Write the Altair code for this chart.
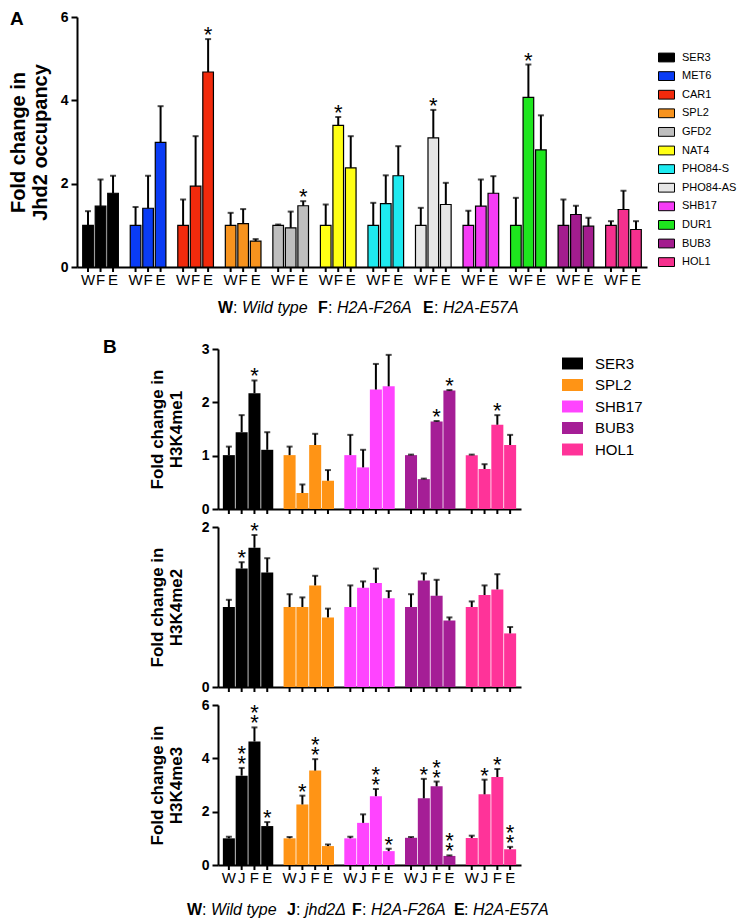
import altair as alt
import pandas as pd

FONT = "Liberation Sans, Arial, sans-serif"

# ---------------- Panel A data ----------------
genes_a = ["SER3", "MET6", "CAR1", "SPL2", "GFD2", "NAT4", "PHO84-S",
           "PHO84-AS", "SHB17", "DUR1", "BUB3", "HOL1"]
colors_a = ["#000000", "#0A3CF5", "#F22A0C", "#F7931E", "#BEBEBE", "#FFFF14",
            "#1EEAF0", "#E6E6E6", "#F53CF5", "#1EE61E", "#A31C8E", "#F5308E"]
conds_a = ["W", "F", "E"]
a_W = [1.00, 1.00, 1.00, 1.00, 1.00, 1.00, 1.00, 1.00, 1.00, 1.00, 1.00, 1.00]
a_F = [1.46, 1.41, 1.94, 1.04, 0.94, 3.40, 1.52, 3.10, 1.46, 4.07, 1.26, 1.38]
a_E = [1.77, 2.99, 4.68, 0.62, 1.47, 2.38, 2.19, 1.50, 1.77, 2.81, 0.98, 0.90]
a_W_err = [0.34, 0.44, 0.62, 0.30, 0.02, 0.50, 0.54, 0.42, 0.35, 0.66, 0.62, 0.10]
a_F_err = [0.64, 0.78, 1.20, 0.35, 0.39, 0.20, 0.68, 0.67, 0.64, 0.79, 0.21, 0.45]
a_E_err = [0.42, 0.87, 0.79, 0.05, 0.11, 0.76, 0.71, 0.52, 0.41, 0.83, 0.20, 0.20]
a_W_stars = [0, 0, 0, 0, 0, 0, 0, 0, 0, 0, 0, 0]
a_F_stars = [0, 0, 0, 0, 0, 1, 0, 1, 0, 1, 0, 0]
a_E_stars = [0, 0, 1, 0, 1, 0, 0, 0, 0, 0, 0, 0]

# ---------------- Panel B data ----------------
genes_b = ["SER3", "SPL2", "SHB17", "BUB3", "HOL1"]
colors_b = ["#000000", "#FF9415", "#FF44FF", "#A51E96", "#FF3399"]
conds_b = ["W", "J", "F", "E"]

me1_W = [1.01, 1.01, 1.01, 1.01, 1.01]
me1_J = [1.44, 0.30, 0.78, 0.56, 0.75]
me1_F = [2.17, 1.20, 2.24, 1.64, 1.58]
me1_E = [1.11, 0.53, 2.30, 2.22, 1.20]
me1_W_err = [0.16, 0.16, 0.38, 0.01, 0.01]
me1_J_err = [0.32, 0.16, 0.33, 0.01, 0.09]
me1_F_err = [0.24, 0.21, 0.48, 0.01, 0.18]
me1_E_err = [0.33, 0.20, 0.59, 0.01, 0.19]
me1_W_stars = [0, 0, 0, 0, 0]
me1_J_stars = [0, 0, 0, 0, 0]
me1_F_stars = [1, 0, 0, 1, 1]
me1_E_stars = [0, 0, 0, 1, 0]

me2_W = [1.00, 1.00, 1.00, 1.00, 1.00]
me2_J = [1.48, 1.00, 1.24, 1.33, 1.15]
me2_F = [1.74, 1.27, 1.30, 1.14, 1.22]
me2_E = [1.43, 0.87, 1.11, 0.83, 0.67]
me2_W_err = [0.09, 0.16, 0.27, 0.16, 0.07]
me2_J_err = [0.08, 0.12, 0.08, 0.09, 0.12]
me2_F_err = [0.16, 0.12, 0.18, 0.20, 0.19]
me2_E_err = [0.18, 0.11, 0.09, 0.04, 0.08]
me2_W_stars = [0, 0, 0, 0, 0]
me2_J_stars = [1, 0, 0, 0, 0]
me2_F_stars = [1, 0, 0, 0, 0]
me2_E_stars = [0, 0, 0, 0, 0]

me3_W = [1.00, 1.00, 1.00, 1.02, 1.01]
me3_J = [3.35, 2.27, 1.58, 2.50, 2.65]
me3_F = [4.63, 3.54, 2.58, 2.95, 3.30]
me3_E = [1.46, 0.71, 0.52, 0.34, 0.59]
me3_W_err = [0.06, 0.05, 0.06, 0.03, 0.09]
me3_J_err = [0.29, 0.33, 0.32, 0.73, 0.55]
me3_F_err = [0.53, 0.43, 0.27, 0.18, 0.30]
me3_E_err = [0.15, 0.06, 0.09, 0.02, 0.09]
me3_W_stars = [0, 0, 0, 0, 0]
me3_J_stars = [2, 1, 0, 1, 1]
me3_F_stars = [2, 2, 2, 2, 1]
me3_E_stars = [1, 0, 1, 2, 2]

caption_a = [("W", "bold", "normal"), (":", "normal", "normal"), ("Wild type", "normal", "italic"),
             ("F", "bold", "normal"), (":", "normal", "normal"), ("H2A-F26A", "normal", "italic"),
             ("E", "bold", "normal"), (":", "normal", "normal"), ("H2A-E57A", "normal", "italic")]
caption_b = [("W", "bold", "normal"), (":", "normal", "normal"), ("Wild type", "normal", "italic"),
             ("J", "bold", "normal"), (":", "normal", "normal"), ("jhd2Δ", "normal", "italic"),
             ("F", "bold", "normal"), (":", "normal", "normal"), ("H2A-F26A", "normal", "italic"),
             ("E", "bold", "normal"), (":", "normal", "normal"), ("H2A-E57A", "normal", "italic")]


def make_df(genes, conds, vals, errs, stars):
    rows = []
    for c, v, e, s in zip(conds, vals, errs, stars):
        for g, vv, ee, ss in zip(genes, v, e, s):
            rows.append({"gene": g, "cond": c, "value": vv, "upper": vv + ee, "stars": ss})
    return pd.DataFrame(rows)


df_a = make_df(genes_a, conds_a, [a_W, a_F, a_E], [a_W_err, a_F_err, a_E_err],
               [a_W_stars, a_F_stars, a_E_stars])
df_b1 = make_df(genes_b, conds_b, [me1_W, me1_J, me1_F, me1_E],
                [me1_W_err, me1_J_err, me1_F_err, me1_E_err],
                [me1_W_stars, me1_J_stars, me1_F_stars, me1_E_stars])
df_b2 = make_df(genes_b, conds_b, [me2_W, me2_J, me2_F, me2_E],
                [me2_W_err, me2_J_err, me2_F_err, me2_E_err],
                [me2_W_stars, me2_J_stars, me2_F_stars, me2_E_stars])
df_b3 = make_df(genes_b, conds_b, [me3_W, me3_J, me3_F, me3_E],
                [me3_W_err, me3_J_err, me3_F_err, me3_E_err],
                [me3_W_stars, me3_J_stars, me3_F_stars, me3_E_stars])


def text_piece(text, x, y, size, weight="normal", style="normal", baseline="middle"):
    return alt.Chart(pd.DataFrame({"t": [text]})).mark_text(
        align="left", baseline=baseline, fontSize=size, fontWeight=weight,
        fontStyle=style, color="black", font=FONT
    ).encode(text="t:N", x=alt.value(x), y=alt.value(y))


def panel(df, genes, conds, colors, width, height, ymax, yticks, title, title_size,
          title_pad, pad_inner, pad_outer, off_pad, stroke, legend, show_labels,
          star_size=22):
    base = alt.Chart(df)
    x = alt.X("gene:N", sort=genes,
              scale=alt.Scale(paddingInner=pad_inner, paddingOuter=pad_outer),
              axis=alt.Axis(labels=False, ticks=False, title=None, domainWidth=2,
                            domainColor="black"))
    xo = alt.XOffset("cond:N", sort=conds,
                     scale=alt.Scale(paddingInner=off_pad, paddingOuter=0))
    yaxis = alt.Axis(values=yticks, title=title, titleFontSize=title_size,
                     titleFontWeight="bold", titleFont=FONT, titleColor="black",
                     titlePadding=title_pad, titleLineHeight=title_size + 2,
                     labelFontSize=14, labelFontWeight="bold", labelColor="black",
                     labelFont=FONT, labelPadding=3, tickSize=6, tickWidth=2,
                     tickColor="black", domainWidth=2, domainColor="black",
                     grid=False, format="d")
    yscale = alt.Scale(domain=[0, ymax], nice=False, zero=True)

    def Y(field):
        return alt.Y(field, scale=yscale, axis=yaxis)

    bar_kw = {"stroke": "black", "strokeWidth": 1.2} if stroke else {}
    bars = base.mark_bar(**bar_kw).encode(
        x=x, xOffset=xo, y=Y("value:Q"),
        color=alt.Color("gene:N", scale=alt.Scale(domain=genes, range=colors),
                        legend=legend, sort=genes))
    rules = base.mark_rule(color="black", strokeWidth=2).encode(
        x=x, xOffset=xo, y=Y("value:Q"), y2="upper:Q")
    caps = base.mark_tick(color="black", thickness=2, size=6, orient="horizontal").encode(
        x=x, xOffset=xo, y=Y("upper:Q"))
    xticks = base.mark_rule(color="black", strokeWidth=2).encode(
        x=x, xOffset=xo, y=alt.value(height), y2=alt.value(height + 5))
    star1 = base.transform_filter("datum.stars == 1").mark_text(
        text="*", fontSize=star_size, baseline="alphabetic", dy=3, color="black",
        font=FONT).encode(x=x, xOffset=xo, y=Y("upper:Q"))
    star2 = base.transform_filter("datum.stars == 2").mark_text(
        text="*\n*", lineBreak="\n", lineHeight=10, fontSize=star_size,
        baseline="alphabetic", dy=-7, color="black",
        font=FONT).encode(x=x, xOffset=xo, y=Y("upper:Q"))
    layers = [bars, rules, caps, xticks, star1, star2]
    if show_labels:
        labels = base.mark_text(fontSize=15, baseline="middle", color="black",
                                font=FONT).encode(
            x=x, xOffset=xo, y=alt.value(height + 13), text="cond:N")
        layers.append(labels)
    return layers


# ---------------- Panel A ----------------
legend_a = alt.Legend(title=None, orient="none", legendX=581, legendY=32,
                      symbolType="M-1,-0.55L1,-0.55L1,0.55L-1,0.55Z", symbolSize=256,
                      symbolStrokeColor="black", symbolStrokeWidth=1,
                      labelFontSize=11, labelOffset=7, rowPadding=3.6,
                      labelColor="black", labelFont=FONT)
layers_a = panel(df_a, genes_a, conds_a, colors_a, 570, 250, 6, [0, 2, 4, 6],
                 ["Fold change in", "Jhd2 occupancy"], 20, 10, 0.25, 0.12, 0.15,
                 True, legend_a, True)
cap_a_x = [141, 156, 165, 241, 251, 260, 346, 357, 366]
for (t, w, s), xx in zip(caption_a, cap_a_x):
    layers_a.append(text_piece(t, xx, 291, 16, w, s))
layers_a.append(text_piece("A", -67, -7, 19, "bold", baseline="top"))
chart_a = alt.layer(*layers_a).properties(width=570, height=250)

# ---------------- Panel B ----------------
legend_b = alt.Legend(title=None, orient="none", legendX=344, legendY=4,
                      symbolType="M-1,-0.57L1,-0.57L1,0.57L-1,0.57Z", symbolSize=441,
                      symbolStrokeWidth=0,
                      labelFontSize=15, labelOffset=12, rowPadding=2.5,
                      labelColor="black", labelFont=FONT)

layers_b1 = panel(df_b1, genes_b, conds_b, colors_b, 303, 160, 3, [0, 1, 2, 3],
                  ["Fold change in", "H3K4me1"], 17, 16, 0.17, 0.08, 0.06,
                  False, legend_b, False)
layers_b1.append(text_piece("B", -115, -2, 19, "bold"))
chart_b1 = alt.layer(*layers_b1).properties(width=303, height=160)

layers_b2 = panel(df_b2, genes_b, conds_b, colors_b, 303, 160, 2, [0, 1, 2],
                  ["Fold change in", "H3K4me2"], 17, 16, 0.17, 0.08, 0.06,
                  False, None, False)
chart_b2 = alt.layer(*layers_b2).properties(width=303, height=160)

layers_b3 = panel(df_b3, genes_b, conds_b, colors_b, 303, 160, 6, [0, 2, 4, 6],
                  ["Fold change in", "H3K4me3"], 17, 16, 0.17, 0.08, 0.06,
                  False, None, True)
cap_b_x = [-31, -16, -7, 69, 78, 87, 134, 144, 153, 236, 246, 255]
for (t, w, s), xx in zip(caption_b, cap_b_x):
    layers_b3.append(text_piece(t, xx, 205, 16, w, s))
chart_b3 = alt.layer(*layers_b3).properties(width=303, height=160)

resolve = dict(x="independent", y="independent", color="independent",
               xOffset="independent")

col_b = alt.vconcat(chart_b1, chart_b2, chart_b3, spacing=18, bounds="flush") \
    .resolve_scale(**resolve)

spacer = alt.Chart(pd.DataFrame({"s": [0]})).mark_point(opacity=0).encode(
    x=alt.value(0), y=alt.value(0)).properties(width=141, height=1)

row_b = alt.hconcat(spacer, col_b, spacing=0, bounds="flush").resolve_scale(**resolve)

chart = alt.vconcat(chart_a, row_b, spacing=82, bounds="flush").resolve_scale(**resolve) \
    .properties(padding={"left": 0, "top": 2, "right": 0, "bottom": 0}) \
    .configure(font=FONT) \
    .configure_view(stroke=None)

chart.save("out.html", embed_options={"renderer": "svg", "actions": False})
